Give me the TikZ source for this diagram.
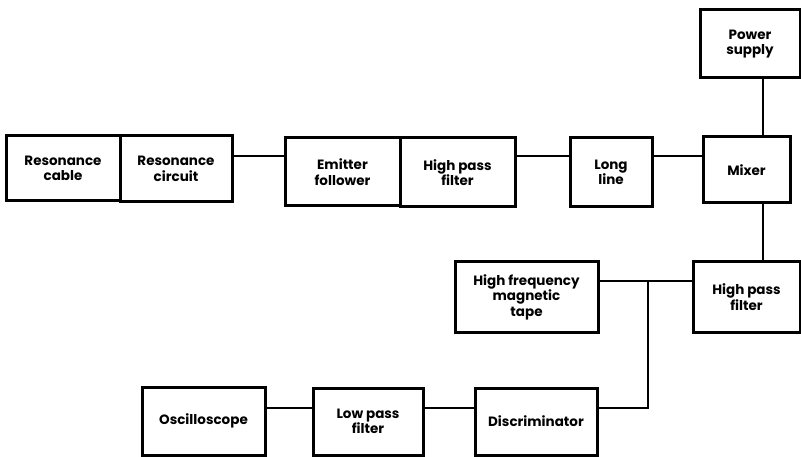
\documentclass[tikz,border=0pt]{standalone}
\usepackage{fontspec}
\setmainfont{Poppins}
\usepackage{tikz}
\tikzset{
  block/.style={draw=black, line width=3pt, fill=white, align=center,
    inner sep=0pt, font=\fontsize{13.5}{15.5}\selectfont\bfseries},
  wire/.style={draw=black, line width=2pt},
}

\begin{document}
\begin{tikzpicture}[x=1pt, y=-1pt]
\useasboundingbox (0,0) rectangle (801,457);
\node[block, minimum width=114, minimum height=65] (rescable) at (63,168.5) {Resonance\\cable};
\node[block, minimum width=112, minimum height=66] (rescirc) at (176,169) {Resonance\\circuit};
\node[block, minimum width=115, minimum height=68] (emitter) at (342.5,172) {Emitter\\follower};
\node[block, minimum width=115, minimum height=69] (hpfa) at (457.5,172.5) {High pass\\filter};
\node[block, minimum width=82, minimum height=69] (longline) at (611,172.5) {Long\\line};
\node[block, minimum width=87, minimum height=66] (mixer) at (746.5,170) {Mixer};
\node[block, minimum width=100, minimum height=68] (power) at (750,44) {Power\\supply};
\node[block, minimum width=143, minimum height=70] (tape) at (526.5,297) {High frequency\\magnetic\\tape};
\node[block, minimum width=107, minimum height=70] (hpfb) at (746.5,297) {High pass\\filter};
\node[block, minimum width=122, minimum height=67] (disc) at (536,421.5) {Discriminator};
\node[block, minimum width=110, minimum height=67] (lowpass) at (368,421.5) {Low pass\\filter};
\node[block, minimum width=123, minimum height=68] (osc) at (203.5,421) {Oscilloscope};
\coordinate (row) at (0,156);
\coordinate (col) at (763,0);
\coordinate (split) at (648,281);
\coordinate (low) at (0,408);
\draw[wire] (rescirc.east |- row) -- (emitter.west |- row);
\draw[wire] (hpfa.east |- row) -- (longline.west |- row);
\draw[wire] (longline.east |- row) -- (mixer.west |- row);
\draw[wire] (power.south -| col) -- (mixer.north -| col);
\draw[wire] (mixer.south -| col) -- (hpfb.north -| col);
\draw[wire] (tape.east |- split) -- (hpfb.west |- split);
\draw[wire] (split) |- (disc.east |- low);
\draw[wire] (disc.west |- low) -- (lowpass.east |- low);
\draw[wire] (lowpass.west |- low) -- (osc.east |- low);
\end{tikzpicture}
\end{document}
